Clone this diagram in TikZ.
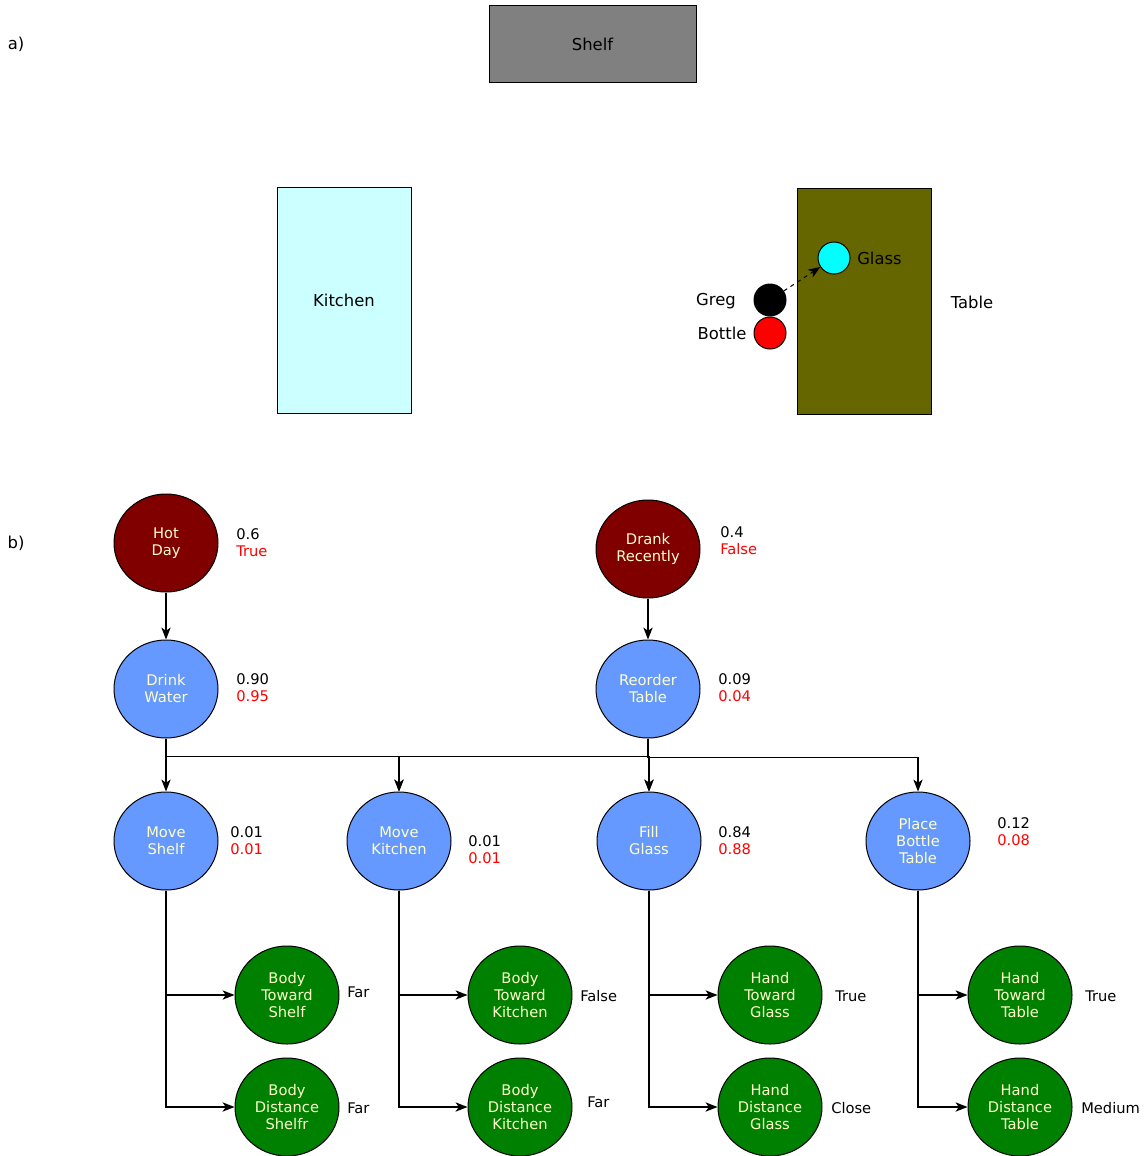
\documentclass[tikz,border=0pt]{standalone}
\usepackage{fontspec}
\setmainfont{DejaVu Sans}
\usetikzlibrary{shapes.geometric,arrows.meta}
\definecolor{shelfgray}{HTML}{808080}
\definecolor{kitchencol}{HTML}{CCFFFF}
\definecolor{tablecol}{HTML}{666600}
\definecolor{darkred}{HTML}{800000}
\definecolor{bluenode}{HTML}{6699FF}
\definecolor{greennode}{HTML}{008000}
\definecolor{paletext}{HTML}{FFFFCC}
\definecolor{glasscol}{HTML}{00FFFF}
\definecolor{redcol}{HTML}{FF0000}
\begin{document}
\begin{tikzpicture}[x=0.75pt,y=-0.75pt,
  bigfont/.style={font=\fontsize{12.3pt}{14pt}\selectfont},
  smallfont/.style={font=\fontsize{11pt}{12.75pt}\selectfont},
  room/.style={draw=black,line width=0.75pt,bigfont},
  bn/.style={ellipse,draw=black,line width=0.75pt,minimum width=78pt,minimum height=73.5pt,inner sep=0pt,align=center,text=paletext,smallfont},
  cause/.style={bn,fill=darkred},
  act/.style={bn,fill=bluenode},
  obs/.style={bn,fill=greennode},
  obj/.style={circle,draw=black,line width=0.75pt,minimum size=24pt,inner sep=0pt},
  lbl/.style={anchor=west,inner sep=0pt,smallfont,align=left},
  conn/.style={line width=0.9pt,-{Stealth[length=9pt,width=7pt,inset=2.5pt]}}
]
\useasboundingbox (0,0) rectangle (1148,1156);

% part a
\node[bigfont] (la) at (16,44) {a)};
\node[bigfont] (lb) at (16,543) {b)};
\node[room,fill=shelfgray,minimum width=155.25pt,minimum height=57.75pt,inner sep=0pt] (shelf) at (592.5,44.5) {Shelf};
\node[room,fill=kitchencol,minimum width=100.5pt,minimum height=169.5pt,inner sep=0pt] (kitchen) at (344,300) {Kitchen};
\node[room,fill=tablecol,minimum width=100.5pt,minimum height=169.5pt,inner sep=0pt] (table) at (864.5,301) {};
\node[bigfont] (tablelbl) at (972,302) {Table};
\node[obj,fill=glasscol] (glass) at (834,258) {};
\node[bigfont,anchor=west,inner sep=0pt] (glasslbl) at (857,258) {Glass};
\node[obj,fill=black] (greg) at (770,300) {};
\node[bigfont] (greglbl) at (716,301) {Greg};
\node[obj,fill=redcol] (bottle) at (770,333) {};
\node[bigfont] (bottlelbl) at (722,333) {Bottle};
\draw[dashed,line width=0.75pt,-{Stealth[length=9pt,width=7pt,inset=2.5pt]}] (greg) -- (glass);

% part b: nodes
\node[cause] (hot) at (166,543) {Hot\\Day};
\node[cause] (drank) at (648,549) {Drank\\Recently};
\node[act] (drink) at (166,689) {Drink\\Water};
\node[act] (reorder) at (648,689) {Reorder\\Table};
\node[act] (mshelf) at (166,841) {Move\\Shelf};
\node[act] (mkitchen) at (399,841) {Move\\Kitchen};
\node[act] (fglass) at (649,841) {Fill\\Glass};
\node[act] (pbt) at (918,841) {Place\\Bottle\\Table};
\node[obs] (bts) at (287,995) {Body\\Toward\\Shelf};
\node[obs] (bds) at (287,1107) {Body\\Distance\\Shelfr};
\node[obs] (btk) at (520,995) {Body\\Toward\\Kitchen};
\node[obs] (bdk) at (520,1107) {Body\\Distance\\Kitchen};
\node[obs] (htg) at (770,995) {Hand\\Toward\\Glass};
\node[obs] (hdg) at (770,1107) {Hand\\Distance\\Glass};
\node[obs] (htt) at (1020,995) {Hand\\Toward\\Table};
\node[obs] (hdt) at (1020,1107) {Hand\\Distance\\Table};

% probability labels
\node[lbl] (phot) at (236,543) {0.6\\\textcolor{redcol}{True}};
\node[lbl] (pdrank) at (720,541) {0.4\\\textcolor{redcol}{False}};
\node[lbl] (pdrink) at (236,688) {0.90\\\textcolor{redcol}{0.95}};
\node[lbl] (preorder) at (718,688) {0.09\\\textcolor{redcol}{0.04}};
\node[lbl] (pmshelf) at (230,841) {0.01\\\textcolor{redcol}{0.01}};
\node[lbl] (pmkitchen) at (468,850) {0.01\\\textcolor{redcol}{0.01}};
\node[lbl] (pfglass) at (718,841) {0.84\\\textcolor{redcol}{0.88}};
\node[lbl] (ppbt) at (997,832) {0.12\\\textcolor{redcol}{0.08}};

% observation values
\node[lbl] (vbts) at (347,992) {Far};
\node[lbl] (vbds) at (347,1108) {Far};
\node[lbl] (vbtk) at (580,996) {False};
\node[lbl] (vbdk) at (587,1102) {Far};
\node[lbl] (vhtg) at (835,996) {True};
\node[lbl] (vhdg) at (831,1108) {Close};
\node[lbl] (vhtt) at (1085,996) {True};
\node[lbl] (vhdt) at (1081,1108) {Medium};

% connectors
\draw[conn] (hot) -- (drink);
\draw[conn] (drank) -- (reorder);
\draw[conn] (drink) -- (mshelf);
\draw[conn] (drink.south) -- ++(0,18) -| (mkitchen.north);
\draw[conn] (drink.south) -- ++(0,18) -| (fglass.north);
\draw[conn] (reorder.south) -- ++(0,18) -| (fglass.north);
\draw[conn] (reorder.south) -- ++(0,18) -| (mkitchen.north);
\draw[conn] (reorder.south) -- ++(0,19) -| (pbt.north);

\draw[conn] (mshelf.south) |- (bts.west);
\draw[conn] (mshelf.south) |- (bds.west);
\draw[conn] (mkitchen.south) |- (btk.west);
\draw[conn] (mkitchen.south) |- (bdk.west);
\draw[conn] (fglass.south) |- (htg.west);
\draw[conn] (fglass.south) |- (hdg.west);
\draw[conn] (pbt.south) |- (htt.west);
\draw[conn] (pbt.south) |- (hdt.west);
\end{tikzpicture}
\end{document}
